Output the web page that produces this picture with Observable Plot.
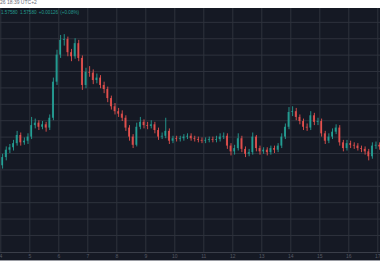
<!DOCTYPE html>
<html>
<head>
<meta charset="utf-8">
<script src="https://cdn.jsdelivr.net/npm/d3@7"></script>
<script src="https://cdn.jsdelivr.net/npm/@observablehq/plot@0.6"></script>
<style>
  html, body { margin: 0; padding: 0; background: #ffffff; }
  #wrap { position: relative; width: 380px; height: 280px; overflow: hidden; font-family: "Liberation Sans", "DejaVu Sans", sans-serif; }
  #stamp { position: absolute; left: 0; top: -1px; font-size: 5px; color: #6a6d78; white-space: nowrap; }
  #chart { position: absolute; left: 0; top: 8px; }
  #legend { position: absolute; left: 1px; top: 10px; font-size: 4.6px; color: #26a69a; white-space: nowrap; word-spacing: 1px; opacity: 0.9; }
  #foot { position: absolute; left: 0; top: 260px; width: 380px; height: 1px; background: #9a9ca3; }
</style>
</head>
<body>
<div id="wrap">
  <div id="stamp"></div>
  <div id="chart"></div>
  <div id="legend"></div>
  <div id="foot"></div>
</div>
<script>
// ---- data (3-hour candles) ----
const stampText = "26 18:39 UTC+2";
const legendText = "1.57580  1.57580  +0.00126 (+0.08%)";
const startDay = 4;          // day of month of the first candle
const candleHours = 3;       // candle interval
const firstOpen = 1.5735;
const closes = [
  1.5745,1.5754,1.5757,1.5762,1.5772,1.5763,1.5765,1.5770,1.5784,1.5787,
  1.5782,1.5785,1.5781,1.5793,1.5837,1.5870,1.5888,1.5889,1.5873,1.5868,
  1.5884,1.5866,1.5833,1.5849,1.5848,1.5839,1.5842,1.5833,1.5828,1.5817,
  1.5807,1.5801,1.5798,1.5793,1.5781,1.5770,1.5760,1.5782,1.5788,1.5784,
  1.5783,1.5785,1.5778,1.5770,1.5771,1.5777,1.5765,1.5768,1.5767,1.5768,
  1.5770,1.5771,1.5768,1.5767,1.5766,1.5765,1.5766,1.5767,1.5766,1.5767,
  1.5770,1.5771,1.5759,1.5752,1.5756,1.5768,1.5755,1.5749,1.5751,1.5770,
  1.5756,1.5752,1.5754,1.5751,1.5756,1.5754,1.5759,1.5770,1.5782,1.5800,
  1.5801,1.5794,1.5789,1.5782,1.5781,1.5796,1.5788,1.5789,1.5774,1.5765,
  1.5770,1.5776,1.5781,1.5763,1.5756,1.5762,1.5760,1.5759,1.5756,1.5755,
  1.5752,1.5746,1.5759,1.5760,1.5758
];
const highs = [
  1.5749,1.5758,1.5761,1.5766,1.5777,1.5775,1.5769,1.5774,1.5794,1.5792,
  1.5790,1.5789,1.5788,1.5797,1.5842,1.5876,1.5894,1.5895,1.5892,1.5877,
  1.5890,1.5888,1.5869,1.5854,1.5856,1.5852,1.5847,1.5845,1.5837,1.5831,
  1.5820,1.5811,1.5805,1.5802,1.5796,1.5784,1.5773,1.5787,1.5794,1.5791,
  1.5788,1.5790,1.5788,1.5781,1.5775,1.5793,1.5780,1.5771,1.5771,1.5771,
  1.5773,1.5774,1.5774,1.5771,1.5770,1.5769,1.5769,1.5770,1.5770,1.5771,
  1.5774,1.5775,1.5774,1.5762,1.5760,1.5774,1.5771,1.5758,1.5755,1.5775,
  1.5772,1.5759,1.5757,1.5757,1.5759,1.5759,1.5762,1.5774,1.5786,1.5806,
  1.5807,1.5805,1.5797,1.5792,1.5786,1.5801,1.5799,1.5793,1.5792,1.5777,
  1.5774,1.5780,1.5785,1.5784,1.5766,1.5766,1.5765,1.5763,1.5762,1.5759,
  1.5758,1.5755,1.5763,1.5764,1.5763
];
const lows = [
  1.5731,1.5741,1.5750,1.5753,1.5759,1.5759,1.5760,1.5761,1.5767,1.5780,
  1.5778,1.5779,1.5776,1.5778,1.5790,1.5833,1.5866,1.5881,1.5868,1.5862,
  1.5865,1.5862,1.5827,1.5829,1.5843,1.5834,1.5835,1.5829,1.5823,1.5812,
  1.5803,1.5797,1.5794,1.5789,1.5777,1.5765,1.5756,1.5758,1.5779,1.5780,
  1.5779,1.5780,1.5774,1.5766,1.5767,1.5768,1.5761,1.5762,1.5764,1.5764,
  1.5765,1.5767,1.5765,1.5764,1.5763,1.5762,1.5762,1.5763,1.5763,1.5763,
  1.5764,1.5767,1.5755,1.5747,1.5748,1.5753,1.5751,1.5745,1.5746,1.5748,
  1.5752,1.5748,1.5749,1.5747,1.5748,1.5750,1.5751,1.5756,1.5767,1.5779,
  1.5795,1.5790,1.5785,1.5778,1.5777,1.5778,1.5784,1.5784,1.5770,1.5761,
  1.5762,1.5767,1.5773,1.5759,1.5752,1.5753,1.5756,1.5755,1.5753,1.5751,
  1.5748,1.5741,1.5743,1.5755,1.5754
];
const dayTicks = [4,5,6,7,8,9,10,11,12,13,14,15,16,17];
const dayLabels = ["4","5","6","7","8","9","10","11","12","13","14","15","16","17"];
const priceGrid = [1.5650,1.5670,1.5690,1.5710,1.5730,1.5750,1.5770,1.5790,1.5810,1.5830,1.5850,1.5870,1.5890,1.5910];

// ---- build table ----
const upColor = "#26a69a", downColor = "#ef5350";
const step = candleHours / 24;
const candles = closes.map((c, i) => {
  const t0 = startDay + i * step;
  const open = i === 0 ? firstOpen : closes[i - 1];
  return {t0, t1: t0 + step, t: t0 + step / 2, open, close: c, high: highs[i], low: lows[i],
          color: c >= open ? upColor : downColor};
});

document.getElementById("stamp").textContent = stampText;
document.getElementById("legend").textContent = legendText;

const W = 380, H = 252;
const chart = Plot.plot({
  width: W, height: H,
  marginLeft: 0, marginRight: 0, marginTop: 0, marginBottom: 8,
  style: {background: "#151924", color: "#5d606b", fontSize: "5px", fontFamily: "Liberation Sans, sans-serif"},
  x: {domain: [3.9897, 17.0931], axis: null},
  y: {domain: [1.56292, 1.59269], axis: null},
  color: {type: "identity"},
  marks: [
    Plot.gridY(priceGrid, {stroke: "#2e323d", strokeOpacity: 1}),
    Plot.gridX(dayTicks, {stroke: "#2e323d", strokeOpacity: 1}),
    Plot.ruleY([1.56292], {stroke: "#3a3e49", strokeWidth: 1}),
    Plot.axisX(dayTicks, {tickSize: 0, tickPadding: 2, tickFormat: (d, i) => dayLabels[i], fill: "#575a65", fontSize: 5}),
    Plot.ruleX(candles, {x: "t", y1: "low", y2: "high", stroke: "color", strokeWidth: 1, strokeOpacity: 0.85}),
    Plot.rect(candles, {x1: "t0", x2: "t1", y1: "open", y2: "close", fill: "color", fillOpacity: 0.85, insetLeft: 0.9, insetRight: 0.9})
  ]
});
document.getElementById("chart").appendChild(chart);
</script>
</body>
</html>
